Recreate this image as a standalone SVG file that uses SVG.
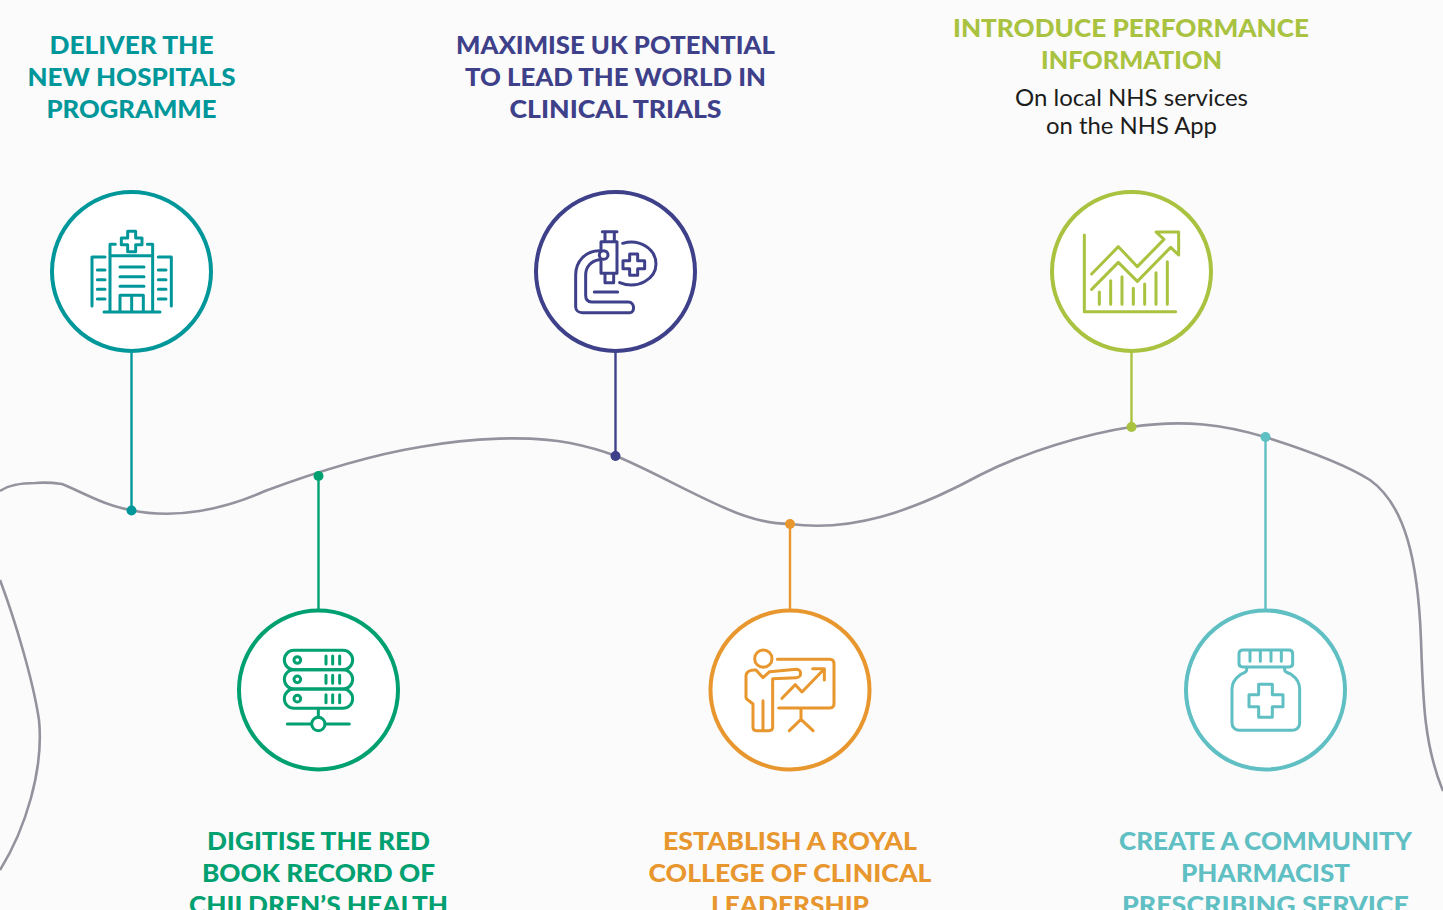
<svg xmlns="http://www.w3.org/2000/svg" width="1443" height="910" viewBox="0 0 1443 910">
<style>
.t{font-family:"Lato","Liberation Sans",sans-serif;font-weight:900;font-size:25.5px;text-anchor:middle}
.b{font-family:"Lato","Liberation Sans",sans-serif;font-weight:400;font-size:23px;text-anchor:middle;fill:#1d1d1b}
.c{fill:#fff;stroke-width:4}
.l{fill:none;stroke-width:2.4}
.i{fill:none;stroke-width:9;stroke-linecap:round;stroke-linejoin:round}
.teal{stroke:#00979a}.navy{stroke:#3e4089}.lime{stroke:#a9c23f}.green{stroke:#00a070}.orange{stroke:#e8962e}.aqua{stroke:#5fbfc3}
.fteal{fill:#00979a}.fnavy{fill:#3e4089}.flime{fill:#a9c23f}.fgreen{fill:#00a070}.forange{fill:#e8962e}.faqua{fill:#5fbfc3}
</style>
<rect width="1443" height="910" fill="#fbfbfc"/>
<g id="connectors">
<path fill="none" stroke="#94929d" stroke-width="2.6" d="M0 491C10 484 25 483 35 483C45 482 55 483 62 484C80 491 105 506 131 510C175 520 225 509 265 491C300 478 365 456 420 447C470 438 530 435 570 443C590 447 603 451 616 456C650 470 690 493 725 508C745 517 770 524 790 524C850 532 910 513 980 475C1025 452 1085 434 1131 427C1185 419 1225 425 1265 437C1300 448 1345 464 1370 480C1405 505 1418 560 1421 640C1423 700 1424 745 1443 791"/>
<path fill="none" stroke="#94929d" stroke-width="2.6" d="M0 580C15 620 33 680 39 720C44 770 25 830 0 870"/>
<path class="l teal" d="M131.500 351V510"/>
<path class="l green" d="M318.500 476V611"/>
<path class="l navy" d="M615.500 351V456"/>
<path class="l orange" d="M790 524V611"/>
<path class="l lime" d="M1131.500 351V427"/>
<path class="l aqua" d="M1265.500 437V611"/>
<circle class="fteal" cx="131.500" cy="510.500" r="5"/>
<circle class="fgreen" cx="318.500" cy="476" r="5"/>
<circle class="fnavy" cx="615.500" cy="456" r="5"/>
<circle class="forange" cx="790" cy="524" r="5"/>
<circle class="flime" cx="1131.500" cy="427" r="5"/>
<circle class="faqua" cx="1265.500" cy="437" r="5"/>
</g>
<g id="node-hospitals">
<text class="t fteal" x="131.500" y="54" textLength="164" lengthAdjust="spacingAndGlyphs">DELIVER THE</text>
<text class="t fteal" x="131.500" y="86" textLength="208" lengthAdjust="spacingAndGlyphs">NEW HOSPITALS</text>
<text class="t fteal" x="131.500" y="118" textLength="170" lengthAdjust="spacingAndGlyphs">PROGRAMME</text>
<circle class="c teal" cx="131.500" cy="271.500" r="79.500"/>
<g transform="translate(70 210) scale(.3333)"><path class="i teal" d="M120 130V103H136M232 103H248V305M120 130V305M120 137H248M150 171H222M150 200H222M150 229H222M102 306H270M150 305V256H220V305M185 256V305M66 288V141H105M304 288V141H265M82 180H105M82 209H105M82 238H105M82 267H105M265 180H288M265 209H288M265 238H288M265 267H288M173 64H197V84H216V104H197V125H173V104H154V84H173Z"/></g>
</g>
<g id="node-trials">
<text class="t fnavy" x="615.500" y="54" textLength="319" lengthAdjust="spacingAndGlyphs">MAXIMISE UK POTENTIAL</text>
<text class="t fnavy" x="615.500" y="86" textLength="301" lengthAdjust="spacingAndGlyphs">TO LEAD THE WORLD IN</text>
<text class="t fnavy" x="615.500" y="118" textLength="212" lengthAdjust="spacingAndGlyphs">CLINICAL TRIALS</text>
<circle class="c navy" cx="615.500" cy="271.500" r="79.500"/>
<g transform="translate(555 210) scale(.3333)"><path class="i navy" d="M142 65H186M150 65V95M178 65V95M138 95H186V190H138V150M138 120V95M150 190V218H176V190M132 122C92 122 62 155 62 195V290C62 302 72 308 82 308H225C240 308 240 276 220 276H110C98 276 92 268 92 256V195C92 170 110 152 132 149M118 246H188M203 100C255 85 303 118 303 162C303 205 250 240 194 218M224 132H248V152H269V176H248V196H224V176H204V152H224Z"/><circle class="i navy" cx="146" cy="135" r="13"/></g>
</g>
<g id="node-performance">
<text class="t flime" x="1131" y="37" textLength="356" lengthAdjust="spacingAndGlyphs">INTRODUCE PERFORMANCE</text>
<text class="t flime" x="1131.500" y="69" textLength="181" lengthAdjust="spacingAndGlyphs">INFORMATION</text>
<text class="b" x="1131.500" y="106" textLength="233" lengthAdjust="spacingAndGlyphs">On local NHS services</text>
<text class="b" x="1131.500" y="134" textLength="171" lengthAdjust="spacingAndGlyphs">on the NHS App</text>
<circle class="c lime" cx="1131.500" cy="271.500" r="79.500"/>
<g transform="translate(1070 210) scale(.3333)"><path class="i lime" d="M43 75V305H317M65 192L145 110L202 170L282 88M65 238L145 157L202 214L302 112L326 135V66H258L282 88M88 246V283M122 212V283M156 200V283M190 235V283M224 222V283M258 188V283M292 155V283"/></g>
</g>
<g id="node-redbook">
<text class="t fgreen" x="318.500" y="850" textLength="223" lengthAdjust="spacingAndGlyphs">DIGITISE THE RED</text>
<text class="t fgreen" x="318.500" y="882" textLength="233" lengthAdjust="spacingAndGlyphs">BOOK RECORD OF</text>
<text class="t fgreen" x="318.500" y="914" textLength="259" lengthAdjust="spacingAndGlyphs">CHILDREN’S HEALTH</text>
<circle class="c green" cx="318.500" cy="690" r="79.500"/>
<g transform="translate(256 630) scale(.3333)"><rect class="i green" x="85" y="61" width="205" height="58" rx="29"/><rect class="i green" x="85" y="119" width="205" height="58" rx="29"/><rect class="i green" x="85" y="177" width="205" height="58" rx="29"/><circle class="i green" cx="124" cy="90" r="10"/><circle class="i green" cx="124" cy="148" r="10"/><circle class="i green" cx="124" cy="206" r="10"/><circle class="i green" cx="187" cy="282" r="20"/><path class="i green" d="M210 78V102M230 78V102M251 78V102M210 136V160M230 136V160M251 136V160M210 194V218M230 194V218M251 194V218M187 235V262M94 282H167M207 282H280"/></g>
</g>
<g id="node-college">
<text class="t forange" x="790" y="850" textLength="254" lengthAdjust="spacingAndGlyphs">ESTABLISH A ROYAL</text>
<text class="t forange" x="790" y="882" textLength="283" lengthAdjust="spacingAndGlyphs">COLLEGE OF CLINICAL</text>
<text class="t forange" x="790" y="914" textLength="158" lengthAdjust="spacingAndGlyphs">LEADERSHIP</text>
<circle class="c orange" cx="790" cy="690" r="79.500"/>
<g transform="translate(728 630) scale(.3333)"><circle class="i orange" cx="106" cy="86" r="26"/><path class="i orange" d="M148 88H305C314 88 318 94 318 102V222C318 230 312 234 304 234H152M84 120L105 143L125 125L205 118C222 118 222 143 205 143L134 146V292C134 300 128 302 122 302H85C78 302 75 298 75 292V222L60 210C56 208 54 204 54 200V138C54 126 66 118 84 120ZM105 212V302M162 205L202 164L222 186L288 118M254 116H289V150M219 234V268M184 302L219 268L255 302"/></g>
</g>
<g id="node-pharmacist">
<text class="t faqua" x="1265.500" y="850" textLength="293" lengthAdjust="spacingAndGlyphs">CREATE A COMMUNITY</text>
<text class="t faqua" x="1265.500" y="882" textLength="169" lengthAdjust="spacingAndGlyphs">PHARMACIST</text>
<text class="t faqua" x="1265.500" y="914" textLength="287" lengthAdjust="spacingAndGlyphs">PRESCRIBING SERVICE</text>
<circle class="c aqua" cx="1265.500" cy="690" r="79.500"/>
<g transform="translate(1203 630) scale(.3333)"><path class="i aqua" d="M120 60H258C265 60 269 64 269 72V100C269 107 265 111 258 111H120C113 111 108 107 108 100V72C108 64 113 60 120 60ZM141 62V94M172 62V94M204 62V94M235 62V94M131 111V120C131 128 120 128 112 134C98 144 87 158 87 176V280C87 292 97 301 110 301H267C280 301 290 292 290 280V176C290 158 280 144 266 134C258 128 245 128 245 120V111M167 163H208V194H240V230H208V262H167V230H138V194H167Z"/></g>
</g>
</svg>
